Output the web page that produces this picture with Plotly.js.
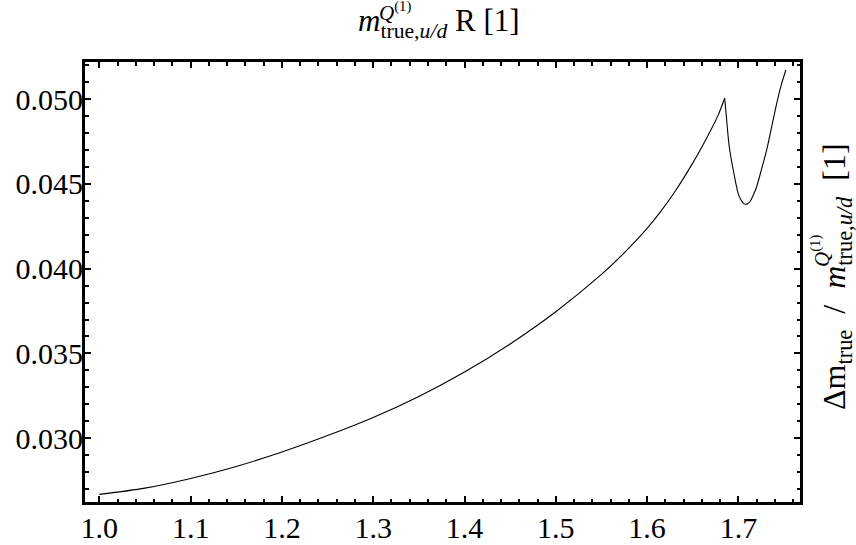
<!DOCTYPE html>
<html>
<head>
<meta charset="utf-8">
<script src="https://cdn.plot.ly/plotly-3.0.1.min.js"></script>
<style>html,body{margin:0;padding:0;background:#fff;}#chart{width:856px;height:545px;}</style>
</head>
<body>
<div id="chart"></div>
<script>
// x: m_true,u/d^Q(1) R ; y: Δm_true / m_true,u/d^Q(1)
const xValues = [1.00, 1.05, 1.10, 1.15, 1.20, 1.25, 1.30, 1.35, 1.40, 1.45, 1.50, 1.55, 1.575, 1.60, 1.615, 1.63, 1.65, 1.66, 1.67, 1.678, 1.685,
  1.687, 1.690, 1.695, 1.700, 1.704, 1.706, 1.708, 1.710, 1.713, 1.716, 1.720, 1.725, 1.731, 1.736, 1.742, 1.747, 1.752];
const yValues = [0.02668, 0.02705, 0.02762, 0.02833, 0.02918, 0.03015, 0.03122, 0.03246, 0.03390, 0.03556, 0.03746, 0.03966, 0.04094, 0.04238, 0.04338, 0.04451, 0.04623, 0.04718, 0.04820, 0.04908, 0.05006,
  0.04888, 0.04720, 0.04565, 0.04440, 0.04396, 0.04384, 0.04380, 0.04383, 0.04398, 0.04430, 0.04484, 0.04580, 0.04701, 0.04825, 0.04976, 0.05085, 0.05173];
const peakIndex = 20; // the cusp at x = 1.685
const xTickVals = [1.0, 1.1, 1.2, 1.3, 1.4, 1.5, 1.6, 1.7];
const yTickVals = [0.030, 0.035, 0.040, 0.045, 0.050];

const serif = "'Liberation Serif', 'Times New Roman', serif";

const lineStyle = {color: '#000', width: 1.1, shape: 'spline', smoothing: 0.8};
const traces = [
  {x: xValues.slice(0, peakIndex + 1), y: yValues.slice(0, peakIndex + 1), type: 'scatter', mode: 'lines', line: lineStyle, hoverinfo: 'none'},
  {x: xValues.slice(peakIndex), y: yValues.slice(peakIndex), type: 'scatter', mode: 'lines', line: lineStyle, hoverinfo: 'none'}
];

const axisCommon = {
  showgrid: false, zeroline: false, showline: true, linecolor: '#000', linewidth: 3,
  mirror: 'allticks', ticks: 'inside', ticklen: 6, tickwidth: 2, tickcolor: '#000',
  tickfont: {family: serif, size: 30, color: '#000'}
};

const layout = {
  width: 856, height: 545,
  margin: {l: 85, r: 56, t: 62, b: 43},
  paper_bgcolor: '#fff', plot_bgcolor: '#fff',
  showlegend: false,
  xaxis: Object.assign({}, axisCommon, {
    range: [0.9843, 1.7675], tickvals: xTickVals, tickformat: '.1f', ticklabelstandoff: -3,
    minor: {dtick: 0.02, tick0: 1.0, ticks: 'inside', ticklen: 3.5, tickwidth: 2, tickcolor: '#000'}
  }),
  yaxis: Object.assign({}, axisCommon, {
    range: [0.02623, 0.0522], tickvals: yTickVals, tickformat: '.3f', ticklabelstandoff: -7,
    minor: {dtick: 0.001, tick0: 0.030, ticks: 'inside', ticklen: 3.5, tickwidth: 2, tickcolor: '#000'}
  }),
  annotations: [
    {xref: 'paper', yref: 'paper', x: 0.495, y: 1, yshift: 17, xanchor: 'center', yanchor: 'bottom', showarrow: false,
     text: '<i>m</i><sub>true,<i>u/d</i></sub> R [1]', font: {family: serif, size: 31, color: '#000'}},
    {xref: 'paper', yref: 'paper', x: 0.495, y: 1, xshift: -62, yshift: 35, xanchor: 'left', yanchor: 'bottom', showarrow: false,
     text: '<i>Q</i><sup>(1)</sup>', font: {family: serif, size: 21, color: '#000'}},
    {xref: 'paper', yref: 'paper', x: 1, y: 0.5, xshift: 36, yshift: 5, xanchor: 'center', yanchor: 'middle', showarrow: false, textangle: -90,
     text: 'Δm<sub>true</sub>\u00a0 / \u00a0<i>m</i><sub>true,<i>u/d</i></sub>\u00a0 [1]', font: {family: serif, size: 32, color: '#000'}},
    {xref: 'paper', yref: 'paper', x: 1, y: 0.5, xshift: 20, yshift: 31, xanchor: 'center', yanchor: 'middle', showarrow: false, textangle: -90,
     text: '<i>Q</i><sup>(1)</sup>', font: {family: serif, size: 21, color: '#000'}}
  ]
};

Plotly.newPlot('chart', traces, layout, {staticPlot: true, displayModeBar: false});
</script>
</body>
</html>
